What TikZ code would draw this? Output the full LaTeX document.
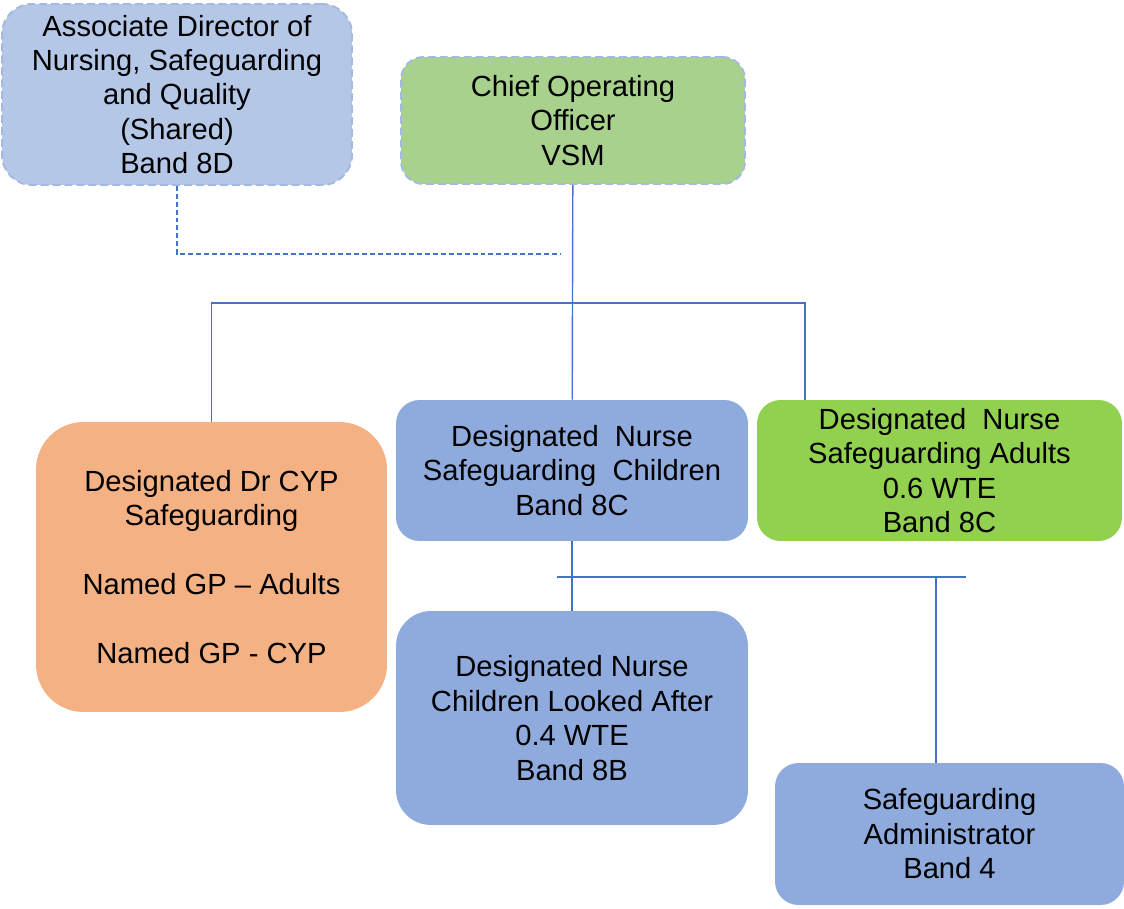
\documentclass[tikz,border=0pt]{standalone}
\usepackage{fontspec}
\setmainfont{Liberation Sans}
\usepackage{tikz}
\usetikzlibrary{positioning}
\definecolor{lineblue}{HTML}{4472C4}
\definecolor{dashblue}{HTML}{A3B9E2}
\definecolor{paleblue}{HTML}{B4C7E7}
\definecolor{midblue}{HTML}{8FAADC}
\definecolor{palegreen}{HTML}{A9D18E}
\definecolor{brightgreen}{HTML}{92D050}
\definecolor{peach}{HTML}{F4B183}
\tikzstyle{post}      = [rectangle, inner sep=0pt, align=center, text=black, font=\fontsize{16.6}{19.6}\selectfont]
\tikzstyle{dashpost}  = [post, draw=dashblue, line width=1.1pt, dash pattern=on 4.5pt off 2.3pt]
\tikzstyle{link}      = [draw=lineblue, line width=0.8pt]
\tikzstyle{dashlink}  = [link, dash pattern=on 2.8pt off 1.7pt]

\begin{document}
\begin{tikzpicture}[x=0.02cm, y=-0.02cm]
\useasboundingbox (0,0) rectangle (1124,908);

\node (assoc) [dashpost, fill=paleblue, rounded corners=0.6cm, minimum width=7cm, minimum height=3.62cm] at (177,94.5)
      {Associate Director of\\Nursing, Safeguarding\\and Quality\\(Shared)\\Band 8D};
\node (coo)   [dashpost, fill=palegreen, rounded corners=0.45cm, minimum width=6.88cm, minimum height=2.54cm] at (573,120.5)
      {Chief Operating\\Officer\\VSM};
\node (drcyp) [post, fill=peach, rounded corners=0.95cm, minimum width=7.02cm, minimum height=5.8cm] at (211.5,567)
      {Designated Dr CYP\\Safeguarding\\[19.6pt]Named GP – Adults\\[19.6pt]Named GP - CYP};
\node (dnsc)  [post, fill=midblue, rounded corners=0.47cm, minimum width=7.04cm, minimum height=2.82cm] at (572,470.5)
      {Designated\ \ Nurse\\Safeguarding\ \ Children\\Band 8C};
\node (dnsa)  [post, fill=brightgreen, rounded corners=0.47cm, minimum width=7.3cm, minimum height=2.82cm] at (939.5,470.5)
      {Designated\ \ Nurse\\Safeguarding Adults\\0.6 WTE\\Band 8C};
\node (dncla) [post, fill=midblue, rounded corners=0.7cm, minimum width=7.04cm, minimum height=4.28cm] at (572,718)
      {Designated Nurse\\Children Looked After\\0.4 WTE\\Band 8B};
\node (admin) [post, fill=midblue, rounded corners=0.47cm, minimum width=6.98cm, minimum height=2.84cm] at (949.5,834)
      {Safeguarding\\Administrator\\Band 4};

\coordinate (dashend) at (560,254);
\coordinate (hub)     at (572,303);
\coordinate (barL)    at (557,577);
\coordinate (barR)    at (966,577);

\draw [dashlink] (assoc.south) |- (dashend);
\draw [link] (coo)   -- (dnsc);
\draw [link] (drcyp.north) |- (hub) -| ([xshift=-2.69cm]dnsa.north);
\draw [link] (dnsc)  -- (dncla);
\draw [link] (barL)  -- (barR);
\draw [link] ([xshift=-0.27cm]admin.north) -- ([xshift=-0.27cm]admin.north |- barR);

\end{tikzpicture}
\end{document}
